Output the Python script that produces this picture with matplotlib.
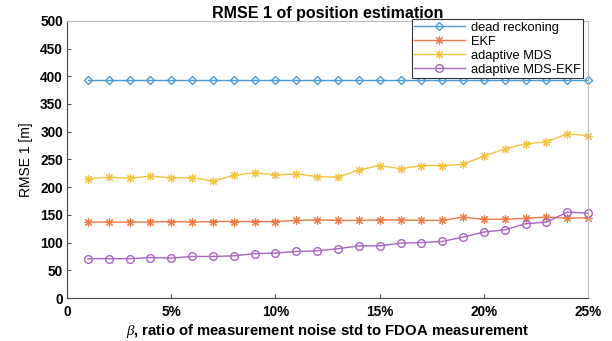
import numpy as np
import matplotlib.pyplot as plt

plt.rcParams['font.family'] = ['Liberation Sans', 'DejaVu Sans']
plt.rcParams['mathtext.fontset'] = 'custom'
plt.rcParams['mathtext.it'] = 'Liberation Serif:italic'

# beta in percent
beta = list(range(1, 26))

dead_reckoning = [394] * 25
ekf = [137, 137, 137, 137, 138, 137, 138, 138, 138, 138, 140, 141, 140, 140,
       141, 141, 140, 140, 146, 142, 142, 144, 146, 144, 145]
adaptive_mds = [215, 218, 216, 220, 217, 217, 211, 221, 226, 222, 224, 219, 218,
                231, 239, 233, 239, 239, 241, 256, 269, 278, 282, 296, 293]
adaptive_mds_ekf = [71, 71, 71, 73, 72, 75, 75, 76, 80, 81, 84, 85, 89, 94,
                    94, 99, 100, 102, 110, 119, 123, 134, 137, 155, 153]

star = (8, 2, 0)  # asterisk marker like matlab '*'

fig = plt.figure(figsize=(6.12, 3.41), dpi=100)
ax = fig.add_axes([0.1095, 0.126, 0.8515, 0.813])

ax.plot(beta, dead_reckoning, color='#4a9ad6', marker='D', markersize=4.5,
        markerfacecolor='none', linewidth=1, label='dead reckoning', clip_on=False)
ax.plot(beta, ekf, color='#ef7c45', marker=star, markersize=6,
        markeredgewidth=0.8, linewidth=1, label='EKF', clip_on=False)
ax.plot(beta, adaptive_mds, color='#f5c33c', marker=star, markersize=6,
        markeredgewidth=0.8, linewidth=1, label='adaptive MDS', clip_on=False)
ax.plot(beta, adaptive_mds_ekf, color='#a865c4', marker='o', markersize=5.5,
        markerfacecolor='none', linewidth=1, label='adaptive MDS-EKF', clip_on=False)

ax.set_xlim(0, 25)
ax.set_ylim(0, 500)
ax.set_xticks([0, 5, 10, 15, 20, 25])
ax.set_xticklabels(['0', '5%', '10%', '15%', '20%', '25%'], fontweight='bold', fontsize=9.8)
ax.set_yticks(range(0, 501, 50))
ax.set_yticklabels([str(v) for v in range(0, 501, 50)], fontweight='bold', fontsize=9.8)
ax.tick_params(direction='in', length=3, color='#555555', pad=3)
ax.tick_params(axis='x', pad=5)
ax.xaxis.set_ticks_position('bottom')
ax.yaxis.set_ticks_position('left')

for side in ['left', 'bottom']:
    ax.spines[side].set_color('#444444')
    ax.spines[side].set_linewidth(0.8)
for side in ['top', 'right']:
    ax.spines[side].set_color('#bbbbbb')
    ax.spines[side].set_linewidth(0.8)

ax.set_title('RMSE 1 of position estimation', fontweight='bold', fontsize=11.5, pad=1)
ax.set_xlabel(r'$\beta$, ratio of measurement noise std to FDOA measurement',
              fontweight='bold', fontsize=10.7, labelpad=2)
ax.set_ylabel('RMSE 1 [m]', fontsize=10, labelpad=5)

leg = ax.legend(loc='upper right', bbox_to_anchor=(0.991, 1.006), fontsize=9.3,
                handlelength=3.9, fancybox=False, framealpha=1, borderpad=0.2,
                labelspacing=0.15, handletextpad=0.5, borderaxespad=0.0)
leg.get_frame().set_edgecolor('#333333')
leg.get_frame().set_linewidth(0.8)

fig.savefig('out.png', dpi=100)
